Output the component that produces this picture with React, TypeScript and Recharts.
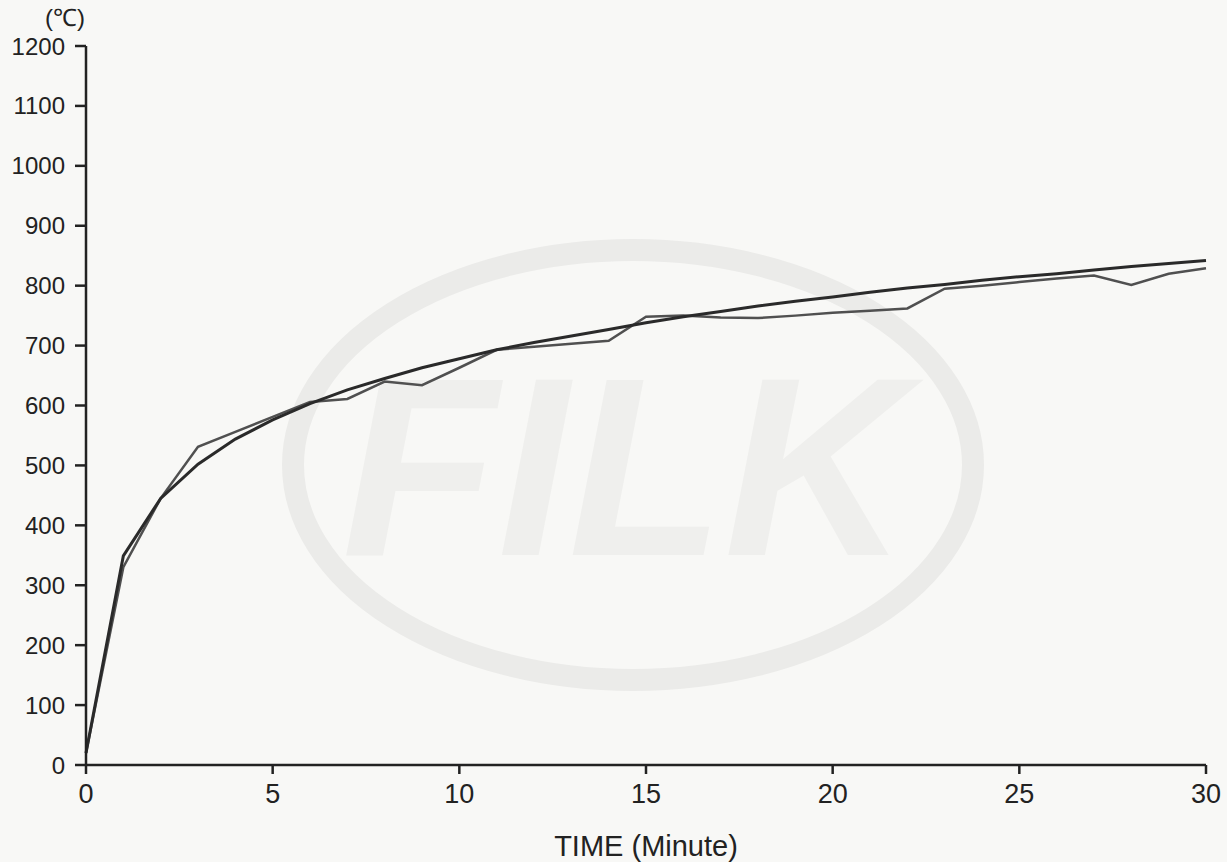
import React from "react";
import { LineChart, Line, XAxis, YAxis, Label } from "recharts";

// time in minutes
const minutes = [
  0, 1, 2, 3, 4, 5, 6, 7, 8, 9, 10, 11, 12, 13, 14, 15, 16, 17, 18, 19, 20,
  21, 22, 23, 24, 25, 26, 27, 28, 29, 30,
];

// standard heating curve
const standard = [
  20, 349, 445, 502, 544, 576, 603, 626, 645, 663, 678, 693, 705, 716, 727,
  738, 748, 757, 766, 774, 781, 789, 796, 802, 809, 815, 820, 826, 832, 837,
  842,
];

// furnace measurement (the jagged line)
const measured = [
  20, 330, 445, 531, 556, 581, 606, 611, 640, 634, 663, 693, 698, 703, 708,
  748, 750, 747, 746, 750, 755, 758, 762, 795, 800, 806, 812, 817, 801, 820,
  829,
];

const xTicks = [0, 5, 10, 15, 20, 25, 30];
const yTicks = [0, 100, 200, 300, 400, 500, 600, 700, 800, 900, 1000, 1100, 1200];

const data = minutes.map((t, i) => ({
  t,
  standard: standard[i],
  measured: measured[i],
}));

const font = "'Liberation Sans', Arial, sans-serif";

const Watermark = () => (
  <svg
    width={1227}
    height={862}
    style={{ position: "absolute", left: 0, top: 0 }}
  >
    <ellipse
      cx={633}
      cy={465}
      rx={340}
      ry={215}
      fill="none"
      stroke="#ebebe9"
      strokeWidth={22}
    />
    <text
      x={625}
      y={555}
      textAnchor="middle"
      fontFamily={font}
      fontWeight={700}
      fontStyle="italic"
      fontSize={255}
      fill="#efefed"
    >
      FILK
    </text>
  </svg>
);

const App = () => {
  return (
    <div
      style={{
        position: "absolute",
        left: 0,
        top: 0,
        width: 1227,
        height: 862,
        background: "#f8f8f6",
        fontFamily: font,
      }}
    >
      <Watermark />
      <div style={{ position: "absolute", left: 0, top: 0 }}>
        <LineChart
          width={1227}
          height={862}
          data={data}
          margin={{ top: 46, right: 21, left: 0, bottom: 0 }}
        >
          <XAxis
            dataKey="t"
            type="number"
            domain={[0, 30]}
            ticks={xTicks}
            height={97}
            tickSize={9}
            tickMargin={10}
            stroke="#222"
            strokeWidth={2.5}
            tick={{ fill: "#222", fontSize: 27, fontFamily: font }}
          >
            <Label
              value="TIME (Minute)"
              position="insideBottom"
              offset={6}
              style={{ fill: "#222", fontSize: 29, fontFamily: font }}
            />
          </XAxis>
          <YAxis
            type="number"
            domain={[0, 1200]}
            ticks={yTicks}
            width={86}
            tickSize={11}
            tickMargin={10}
            stroke="#222"
            strokeWidth={2.5}
            interval={0}
            tick={{ fill: "#222", fontSize: 24, fontFamily: font }}
          >
            <Label
              value="(℃)"
              position="top"
              offset={20}
              dx={22}
              style={{ fill: "#222", fontSize: 24, fontFamily: font }}
            />
          </YAxis>
          <Line
            dataKey="measured"
            type="linear"
            stroke="#505050"
            strokeWidth={2.5}
            dot={false}
            isAnimationActive={false}
          />
          <Line
            dataKey="standard"
            type="linear"
            stroke="#2a2a2a"
            strokeWidth={3}
            dot={false}
            isAnimationActive={false}
          />
        </LineChart>
      </div>
    </div>
  );
};

export default App;
